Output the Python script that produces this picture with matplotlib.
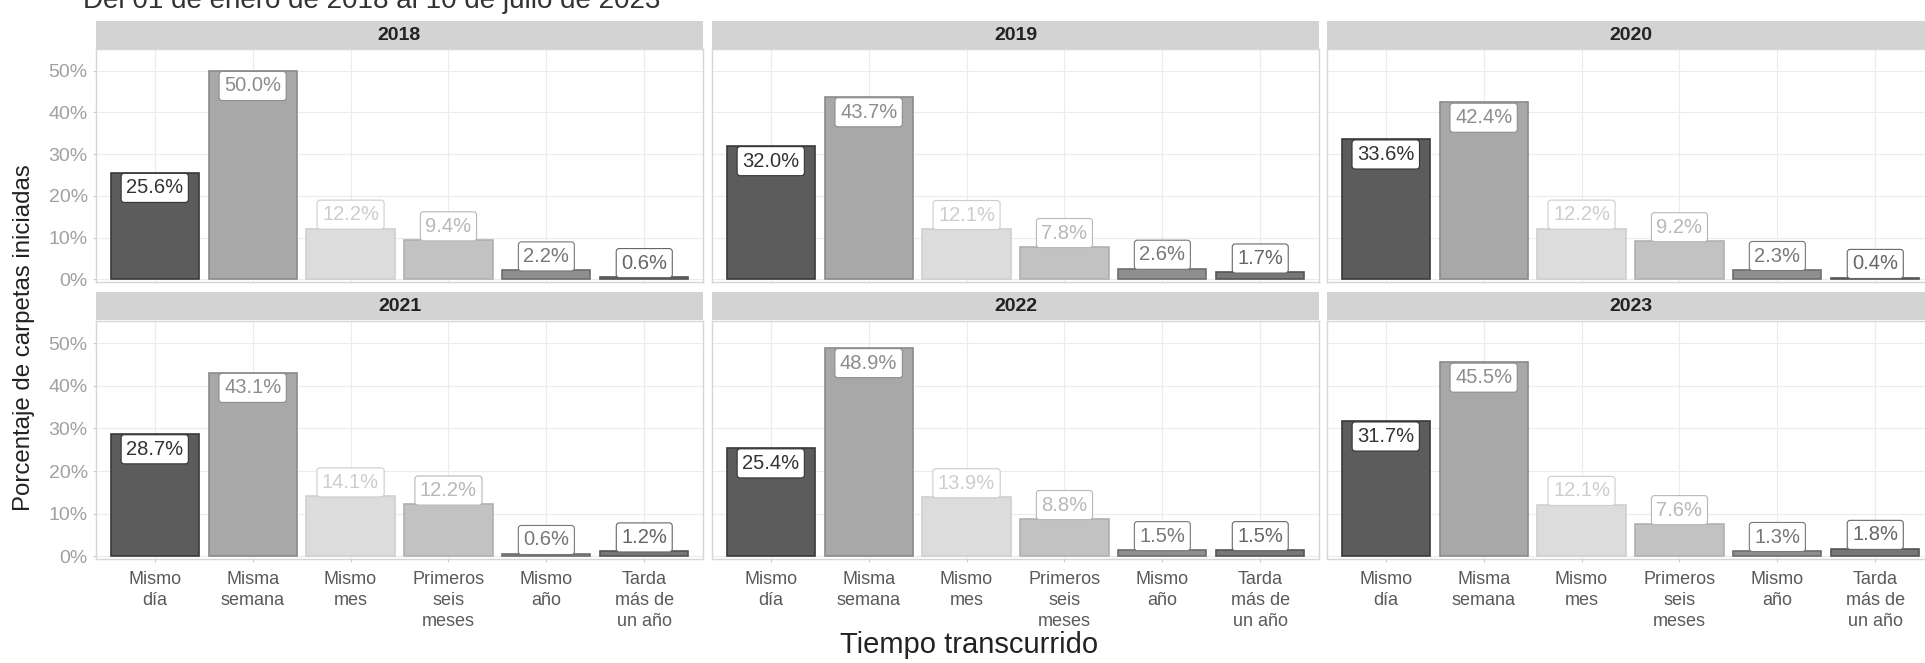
import numpy as np
import matplotlib
matplotlib.use('Agg')
import matplotlib.pyplot as plt

plt.rcParams['font.family'] = ['Liberation Sans', 'DejaVu Sans']

titulo = 'Del 01 de enero de 2018 al 10 de julio de 2023'
anios = ['2018', '2019', '2020', '2021', '2022', '2023']
categorias = ['Mismo\ndía', 'Misma\nsemana', 'Mismo\nmes', 'Primeros\nseis\nmeses',
              'Mismo\naño', 'Tarda\nmás de\nun año']
valores = {
    '2018': [25.6, 50.0, 12.2, 9.4, 2.2, 0.6],
    '2019': [32.0, 43.7, 12.1, 7.8, 2.6, 1.7],
    '2020': [33.6, 42.4, 12.2, 9.2, 2.3, 0.4],
    '2021': [28.7, 43.1, 14.1, 12.2, 0.6, 1.2],
    '2022': [25.4, 48.9, 13.9, 8.8, 1.5, 1.5],
    '2023': [31.7, 45.5, 12.1, 7.6, 1.3, 1.8],
}
yticks = [0, 10, 20, 30, 40, 50]

relleno = ['#5c5c5c', '#a8a8a8', '#dcdcdc', '#c2c2c2', '#8e8e8e', '#777777']
borde = ['#3a3a3a', '#8a8a8a', '#cfcfcf', '#b0b0b0', '#6e6e6e', '#555555']
texto = ['#333333', '#8c8c8c', '#cdcdcd', '#b8b8b8', '#777777', '#666666']

W, H = 1925, 663
fig = plt.figure(figsize=(W / 100, H / 100), dpi=100)

def caja(x, y, w, h):
    # pixel box (top-left origin) -> figure fraction
    return [x / W, 1 - (y + h) / H, w / W, h / H]

col_x = [96, 712, 1327]
panel_w = 607
fila_y = [(21, 49, 233), (292, 321, 238)]  # strip top, panel top, panel height
strip_h = 28

x = np.arange(1, 7)
for i, anio in enumerate(anios):
    fila, col = divmod(i, 3)
    st, pt, ph = fila_y[fila]
    # strip
    sax = fig.add_axes(caja(col_x[col], st, panel_w, strip_h))
    sax.set_facecolor('#d3d3d3')
    sax.set_xticks([]); sax.set_yticks([])
    for s in sax.spines.values():
        s.set_visible(False)
    sax.text(0.5, 0.5, anio, ha='center', va='center', fontsize=14,
             fontweight='bold', color='#222222', transform=sax.transAxes)

    ax = fig.add_axes(caja(col_x[col], pt, panel_w, ph))
    vals = valores[anio]
    ax.bar(x, vals, width=0.9, color=relleno, edgecolor=borde, linewidth=1.2, zorder=2)
    for xi, v, k in zip(x, vals, range(6)):
        off = -11 if v > 20 else 10
        ax.annotate(f'{v:.1f}%', (xi, v), xytext=(0, off), textcoords='offset points',
                    ha='center', va='center', fontsize=14.5, color=texto[k], zorder=3,
                    bbox=dict(boxstyle='round,pad=0.25,rounding_size=0.15', fc='white',
                              ec=texto[k], lw=0.8))
    ax.set_xlim(0.4, 6.6)
    ax.set_ylim(-0.6, 55.2)
    ax.set_yticks(yticks)
    ax.set_xticks(x)
    ax.grid(True, color='#ececec', linewidth=0.8, zorder=0)
    ax.set_axisbelow(True)
    for s in ax.spines.values():
        s.set_color('#d6d6d6')
        s.set_linewidth(1.0)
    ax.tick_params(length=2.5, color='#cccccc', labelsize=14, labelcolor='#a0a0a0')
    if col == 0:
        ax.set_yticklabels([f'{t}%' for t in yticks])
    else:
        ax.set_yticklabels([])
        ax.tick_params(axis='y', length=0)
    if fila == 1:
        ax.set_xticklabels(categorias, fontsize=13, color='#5a5a5a', linespacing=1.3)
        ax.tick_params(axis='x', pad=6)
    else:
        ax.set_xticklabels([])
        ax.tick_params(axis='x', length=0)

fig.text(83 / W, 1 - 8 / H, titulo, ha='left', va='baseline', fontsize=20, color='#333333')
fig.text(24 / W, 1 - 338 / H, 'Porcentaje de carpetas iniciadas', rotation=90,
         ha='center', va='center', fontsize=17.3, color='#222222')
fig.text(969 / W, 1 - 645 / H, 'Tiempo transcurrido', ha='center', va='center',
         fontsize=21, color='#222222')

fig.savefig('out.png', dpi=100, facecolor='white')
